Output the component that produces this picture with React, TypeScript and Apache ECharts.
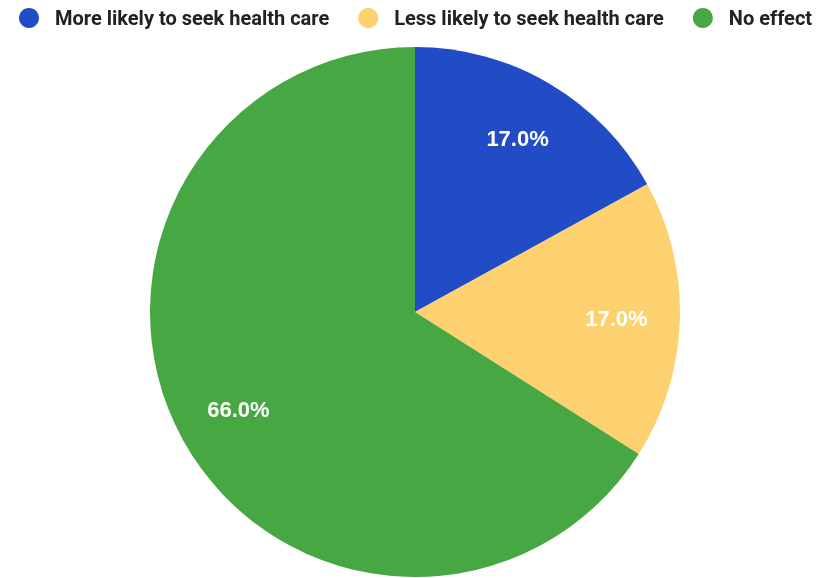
import React, { useEffect, useRef } from "react";
import * as echarts from "echarts";

const categories = ["More likely to seek health care", "Less likely to seek health care", "No effect"];
const values = [17.0, 17.0, 66.0];
const colors = ["#224CC5", "#FDD16F", "#47A843"];

export default function App() {
  const ref = useRef<HTMLDivElement>(null);
  useEffect(() => {
    const chart = echarts.init(ref.current!, null, { renderer: "svg" });
    const data = categories.map((name, i) => ({ name, value: values[i], itemStyle: { color: colors[i] } }));
    chart.setOption({
      animation: false,
      legend: {
        top: 3,
        left: 14,
        icon: "circle",
        itemWidth: 20,
        itemHeight: 20,
        itemGap: 29,
        data: categories,
        textStyle: { fontFamily: "Roboto", fontWeight: "bold", fontSize: 20, color: "#222", padding: [0, 0, 0, 11] },
      },
      series: [
        {
          type: "pie",
          center: [415, 312],
          radius: [0, 265],
          startAngle: 90,
          label: { show: false },
          labelLine: { show: false },
          silent: true,
          data,
        },
        {
          type: "pie",
          center: [415, 312],
          radius: [132, 265],
          startAngle: 90,
          silent: true,
          itemStyle: { color: "rgba(0,0,0,0)" },
          label: {
            show: true,
            position: "inside",
            formatter: (p: any) => p.value.toFixed(1) + "%",
            color: "#fff",
            fontFamily: "Liberation Sans",
            fontWeight: "bold",
            fontSize: 22,
          },
          labelLine: { show: false },
          data: categories.map((name, i) => ({ name, value: values[i], itemStyle: { color: "rgba(0,0,0,0)" } })),
        },
      ],
    });
    return () => chart.dispose();
  }, []);
  return <div ref={ref} style={{ position: "fixed", left: 0, top: 0, width: 833, height: 578 }} />;
}
